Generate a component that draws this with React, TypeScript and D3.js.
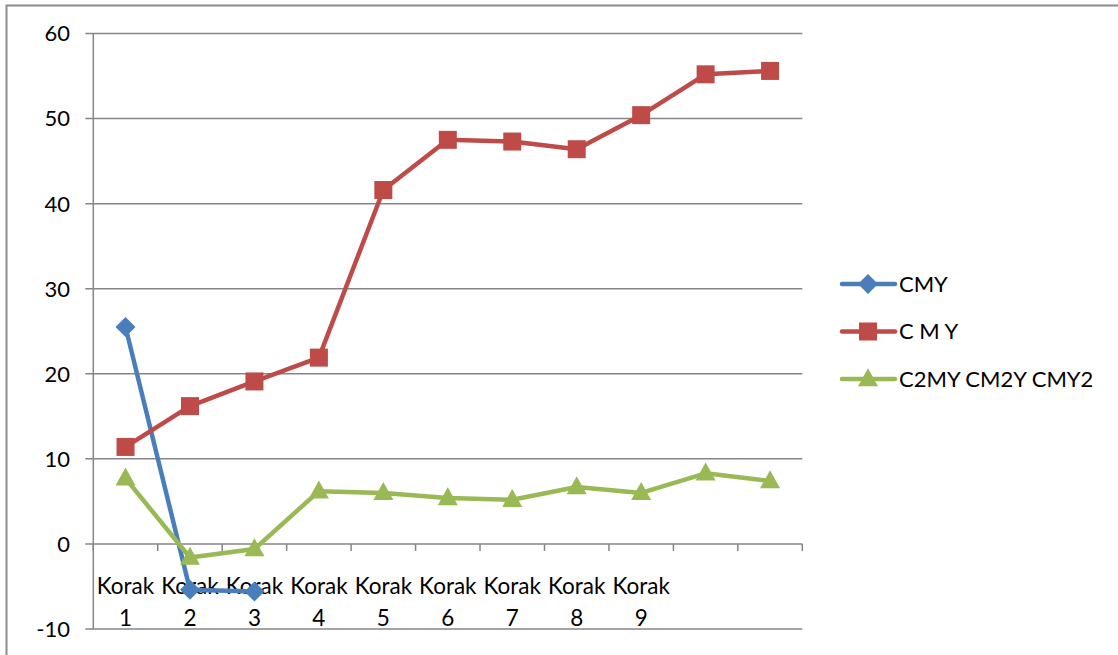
import React from "react";
import * as d3 from "d3";

const categories = ["Korak 1", "Korak 2", "Korak 3", "Korak 4", "Korak 5", "Korak 6", "Korak 7", "Korak 8", "Korak 9", "", ""];
const seriesNames = ["CMY", "C M Y", "C2MY CM2Y CMY2"];
const cmy: (number | null)[] = [25.5, -5.4, -5.6, null, null, null, null, null, null, null, null];
const cmySpaced: (number | null)[] = [11.4, 16.2, 19.1, 21.9, 41.6, 47.5, 47.3, 46.4, 50.4, 55.2, 55.6];
const c2my: (number | null)[] = [7.7, -1.6, -0.6, 6.2, 6.0, 5.4, 5.2, 6.7, 6.0, 8.3, 7.4];
const yTicks = [-10, 0, 10, 20, 30, 40, 50, 60];
const colors = ["#4A7EBB", "#BE4B48", "#98B954"];

const FONT = "Lato, 'Open Sans', sans-serif";

function Marker({ kind, x, y, color }: { kind: number; x: number; y: number; color: string }) {
  if (kind === 0) {
    const r = 10;
    return <path d={`M${x},${y - r}L${x + r},${y}L${x},${y + r}L${x - r},${y}Z`} fill={color} />;
  }
  if (kind === 1) {
    const s = 18;
    return <rect x={x - s / 2} y={y - s / 2} width={s} height={s} fill={color} />;
  }
  const w = 20, h = 18;
  return <path d={`M${x},${y - h * 0.6}L${x + w / 2},${y + h * 0.4}L${x - w / 2},${y + h * 0.4}Z`} fill={color} />;
}

export default function App() {
  const left = 93.3, right = 802.3, top = 33.5, bottom = 629;
  const x = d3.scaleBand<number>().domain(d3.range(categories.length)).range([left, right]);
  const y = d3.scaleLinear().domain([-10, 60]).range([bottom, top]);
  const cx = (i: number) => (x(i) as number) + x.bandwidth() / 2;
  const data = [cmy, cmySpaced, c2my];
  const line = d3
    .line<number | null>()
    .defined((d) => d !== null)
    .x((_, i) => cx(i))
    .y((d) => y(d as number));

  return (
    <svg width={1118} height={655} style={{ position: "fixed", left: 0, top: 0, background: "#fff" }} fontFamily={FONT}>
      <rect x={0} y={0} width={1118} height={655} fill="#fff" />
      <rect x={6.5} y={5.5} width={1300} height={1000} fill="none" stroke="#8c8c8c" strokeWidth={2} />
      {yTicks.map((t) => (
        <g key={t}>
          <line x1={left - 8} x2={right} y1={y(t)} y2={y(t)} stroke="#868686" strokeWidth={1.5} />
          <text x={70} y={y(t)} dy="0.36em" textAnchor="end" fontSize={22} fill="#000">
            {t}
          </text>
        </g>
      ))}
      <line x1={left} x2={left} y1={top} y2={bottom} stroke="#868686" strokeWidth={1.5} />
      {d3.range(categories.length + 1).map((i) => {
        const xx = i < categories.length ? (x(i) as number) : right;
        return <line key={i} x1={xx} x2={xx} y1={y(0)} y2={y(0) + 7} stroke="#868686" strokeWidth={1.5} />;
      })}
      {categories.map((c, i) => {
        const parts = c.split(" ");
        return (
          <text key={i} x={cx(i)} textAnchor="middle" fontSize={22.5} fill="#000">
            <tspan x={cx(i)} y={594}>{parts[0] || ""}</tspan>
            <tspan x={cx(i)} y={626}>{parts[1] || ""}</tspan>
          </text>
        );
      })}
      {data.map((s, k) => (
        <g key={k}>
          <path d={line(s) || ""} fill="none" stroke={colors[k]} strokeWidth={4.5} strokeLinejoin="round" />
          {s.map((v, i) => (v === null ? null : <Marker key={i} kind={k} x={cx(i)} y={y(v)} color={colors[k]} />))}
        </g>
      ))}
      {seriesNames.map((n, k) => {
        const ly = 284 + k * 47.5;
        return (
          <g key={n}>
            <line x1={842} x2={895} y1={ly} y2={ly} stroke={colors[k]} strokeWidth={4.5} strokeLinecap="round" />
            <Marker kind={k} x={868} y={ly} color={colors[k]} />
            <text x={899} y={ly} dy="0.36em" fontSize={22} fill="#000">
              {n}
            </text>
          </g>
        );
      })}
    </svg>
  );
}
